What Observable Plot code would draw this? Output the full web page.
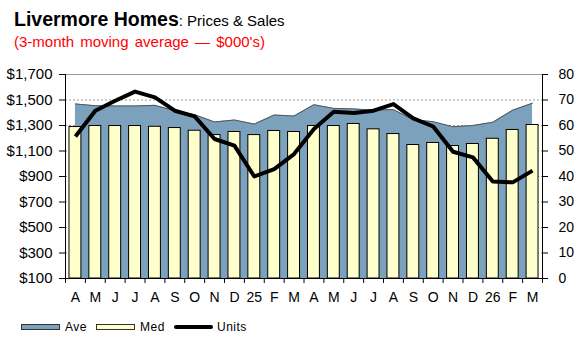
<!DOCTYPE html>
<html>
<head>
<meta charset="utf-8">
<script src="https://cdn.jsdelivr.net/npm/d3@7"></script>
<script src="https://cdn.jsdelivr.net/npm/@observablehq/plot@0.6"></script>
<style>
  html, body { margin: 0; padding: 0; background: #fff; }
  body { width: 577px; height: 344px; overflow: hidden; font-family: "Liberation Sans", Arial, sans-serif; }
  #title { height: 56px; position: relative; }
  #t1 { position: absolute; left: 14px; top: 8px; white-space: nowrap; color: #000; }
  #t1 b { font-size: 19.5px; font-weight: bold; }
  #t1 span { font-size: 15px; }
  #t2 { position: absolute; left: 14px; top: 33px; font-size: 15px; word-spacing: 2px; color: #ff0000; white-space: nowrap; }
  #legend { position: relative; height: 38px; font-size: 12px; letter-spacing: 0.5px; color: #000; }
  .item { position: absolute; top: 14px; display: flex; align-items: center; }
  .sw { width: 37px; height: 4px; border: 1px solid #333; margin-right: 5px; }
  .ln { width: 39px; height: 4px; background: #000; border-radius: 2px; margin-right: 4px; }
</style>
</head>
<body>
<div id="title">
  <div id="t1"><b>Livermore Homes</b><span>: Prices &amp; Sales</span></div>
  <div id="t2">(3-month moving average — $000's)</div>
</div>
<div id="chart"></div>
<div id="legend"></div>
<script>
// ---- data ----
const months = ["A","M","J","J","A","S","O","N","D","25","F","M","A","M","J","J","A","S","O","N","D","26","F","M"];
const ave = [1469,1455,1453,1453,1458,1415,1385,1328,1343,1311,1382,1374,1463,1434,1430,1420,1425,1345,1330,1290,1300,1325,1420,1475];
const med = [1288,1296,1296,1296,1290,1280,1259,1225,1249,1225,1257,1249,1296,1296,1312,1270,1233,1147,1163,1139,1155,1196,1265,1304];
const units = [55.7,65.8,69.7,73.3,71.0,65.8,63.6,54.7,52.1,40.0,42.9,48.8,58.6,65.4,64.9,65.8,68.4,62.8,59.6,49.7,47.5,38.0,37.7,42.3];
const priceTicks = [100,300,500,700,900,1100,1300,1500,1700];
const unitTicks = [0,10,20,30,40,50,60,70,80];
const seriesNames = ["Ave","Med","Units"];

const data = months.map((m, i) => ({i, m, ave: ave[i], med: med[i], units: units[i]}));
// the right (Units) axis shares the price scale: 0 -> $100, 80 -> $1,700
const toPrice = u => priceTicks[0] + u * (priceTicks[priceTicks.length-1] - priceTicks[0]) / unitTicks[unitTicks.length-1];
const fromPrice = p => Math.round((p - priceTicks[0]) * unitTicks[unitTicks.length-1] / (priceTicks[priceTicks.length-1] - priceTicks[0]));
const yMin = priceTicks[0], yMax = priceTicks[priceTicks.length-1];
const n = months.length;

const AVE_FILL = "#7CA1BD", MED_FILL = "#FFFFCC";

const chart = Plot.plot({
  width: 577,
  height: 250,
  marginLeft: 65,
  marginRight: 35,
  marginTop: 18,
  marginBottom: 28,
  style: {fontFamily: "'Liberation Sans', Arial, sans-serif", fontSize: "14px", color: "#000", background: "#fff", overflow: "visible"},
  x: {domain: [0, n], axis: null},
  y: {domain: [yMin, yMax], axis: null},
  marks: [
    Plot.ruleY(priceTicks.slice(1, -1), {stroke: "#999", strokeDasharray: "2,2", strokeWidth: 1}),
    Plot.ruleY([yMax], {stroke: "#999", strokeWidth: 1}),
    Plot.areaY(data, {x: d => d.i + 0.5, y1: yMin, y2: "ave", fill: AVE_FILL}),
    Plot.lineY(data, {x: d => d.i + 0.5, y: "ave", stroke: "#555", strokeWidth: 1}),
    Plot.rect(data, {x1: d => d.i + 0.2, x2: d => d.i + 0.8, y1: yMin, y2: "med", fill: MED_FILL, stroke: "#000", strokeWidth: 1}),
    Plot.line(data, {x: d => d.i + 0.5, y: d => toPrice(d.units), stroke: "#000", strokeWidth: 4, strokeLinejoin: "round", strokeLinecap: "butt"}),
    Plot.ruleX([0], {stroke: "#000"}),
    Plot.ruleX([n], {stroke: "#000"}),
    Plot.ruleY([yMin], {stroke: "#000"}),
    Plot.axisY({anchor: "left", ticks: priceTicks, tickFormat: d => "$" + d3.format(",")(d), tickSize: 6, tickPadding: 7, fontSize: 15}),
    Plot.axisY({anchor: "right", ticks: unitTicks.map(toPrice), tickFormat: fromPrice, tickSize: 5, tickPadding: 11, fontSize: 14}),
    Plot.axisX({ticks: d3.range(n + 1), tickFormat: () => "", tickSize: 5}),
    Plot.axisX({ticks: d3.range(n).map(i => i + 0.5), tickFormat: d => months[Math.floor(d)], tickSize: 0, tickPadding: 14, fontSize: 14})
  ]
});
document.getElementById("chart").appendChild(chart);

// legend
const legend = document.getElementById("legend");
const items = [
  {name: seriesNames[0], left: 21, html: `<div class="sw" style="background:${AVE_FILL}"></div>`},
  {name: seriesNames[1], left: 96, html: `<div class="sw" style="background:${MED_FILL}"></div>`},
  {name: seriesNames[2], left: 174, html: `<div class="ln"></div>`}
];
for (const it of items) {
  const el = document.createElement("div");
  el.className = "item";
  el.style.left = it.left + "px";
  el.innerHTML = it.html + `<span>${it.name}</span>`;
  legend.appendChild(el);
}
</script>
</body>
</html>
